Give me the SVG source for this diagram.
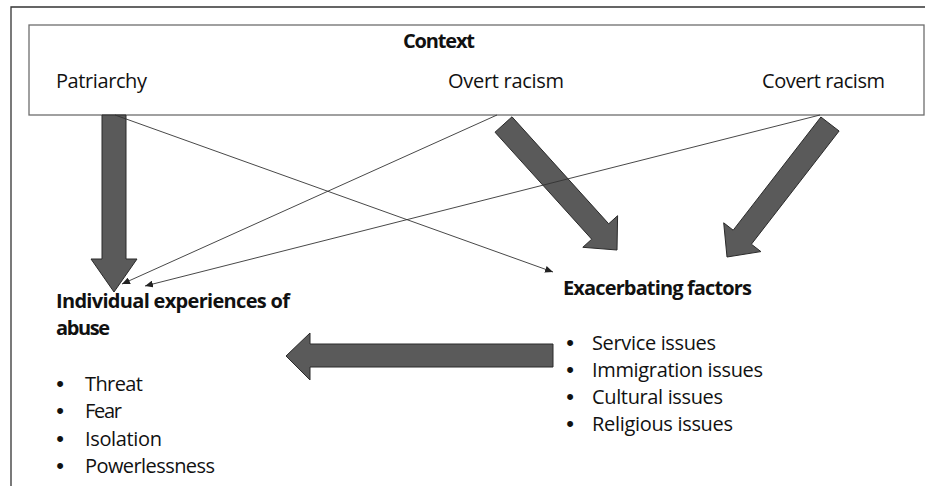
<svg xmlns="http://www.w3.org/2000/svg" width="927" height="486" viewBox="0 0 927 486">
<defs>
<style>
.t{font-family:"Open Sans","Liberation Sans",sans-serif;font-size:20px;fill:#111}
.b{font-weight:bold}
.blt{font-family:"Liberation Sans",sans-serif;font-size:22px;fill:#111;text-anchor:middle}
.big{fill:#5a5a5a;stroke:#2a2a2a;stroke-width:1}
.thin{fill:none;stroke:#333;stroke-width:0.9}
</style>
<marker id="ah" markerUnits="userSpaceOnUse" markerWidth="9" markerHeight="7" refX="8" refY="3.5" orient="auto">
<path d="M0,0 L8,3.5 L0,7 Z" fill="#222"/>
</marker>
</defs>
<rect width="927" height="486" fill="#fff"/>
<path d="M11,486 V7 H925" fill="none" stroke="#333" stroke-width="1.3"/>

<g id="context">
<rect x="29" y="25" width="895" height="90" fill="#fff" stroke="#6e6e6e" stroke-width="1.3"/>
<text class="t b" x="403" y="48" textLength="72">Context</text>
<text class="t" x="56" y="88" textLength="91">Patriarchy</text>
<text class="t" x="448" y="88" textLength="116">Overt racism</text>
<text class="t" x="762" y="88" textLength="123">Covert racism</text>
</g>

<g id="individual">
<text class="t b" x="56" y="308" textLength="234">Individual experiences of</text>
<text class="t b" x="56" y="335" textLength="54">abuse</text>
<text class="blt" x="60" y="391">•</text>
<text class="t" x="85" y="391" textLength="58">Threat</text>
<text class="blt" x="60" y="418">•</text>
<text class="t" x="85" y="418" textLength="37">Fear</text>
<text class="blt" x="60" y="446">•</text>
<text class="t" x="85" y="446" textLength="77">Isolation</text>
<text class="blt" x="60" y="473">•</text>
<text class="t" x="85" y="473" textLength="130">Powerlessness</text>
</g>

<g id="exacerbating">
<text class="t b" x="563" y="295" textLength="189">Exacerbating factors</text>
<text class="blt" x="570" y="350">•</text>
<text class="t" x="592" y="350" textLength="124">Service issues</text>
<text class="blt" x="570" y="377">•</text>
<text class="t" x="592" y="377" textLength="171">Immigration issues</text>
<text class="blt" x="570" y="404">•</text>
<text class="t" x="592" y="404" textLength="131">Cultural issues</text>
<text class="blt" x="570" y="431">•</text>
<text class="t" x="592" y="431" textLength="141">Religious issues</text>
</g>

<g id="connectors">
<polygon class="big" points="102,115 126,115 126,259 137,259 114,292 91,259 102,259"/>
<polygon class="big" points="512.0,116.8 608.7,223.8 617.6,215.7 617,250 582.8,247.3 591.7,239.2 495.0,132.2"/>
<polygon class="big" points="820.9,117.0 733.2,230.2 723.7,222.8 727,257 760.9,251.6 751.4,244.2 839.1,131.0"/>
<polygon class="big" points="553,344 310,344 310,333 286,356 310,380 310,367 553,367"/>
<line class="thin" x1="115" y1="115" x2="553" y2="272" marker-end="url(#ah)"/>
<line class="thin" x1="497" y1="115" x2="122" y2="284" marker-end="url(#ah)"/>
<line class="thin" x1="820" y1="115" x2="145" y2="286" marker-end="url(#ah)"/>
</g>
</svg>
